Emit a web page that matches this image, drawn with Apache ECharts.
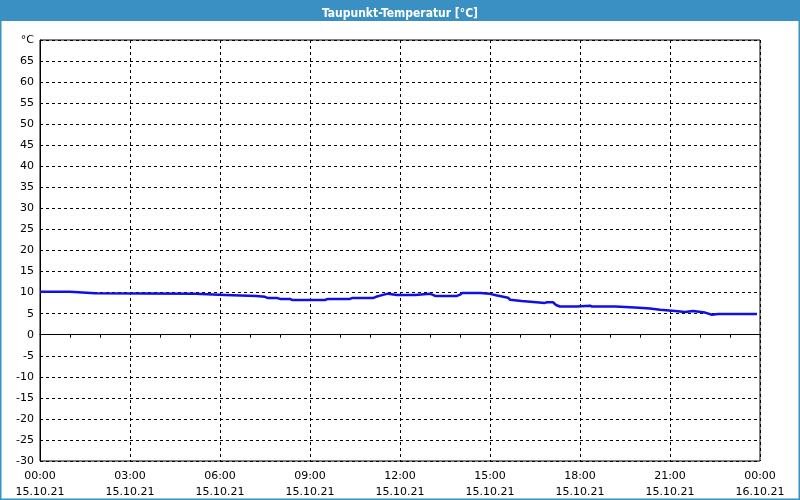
<!DOCTYPE html>
<html><head><meta charset="utf-8">
<script src="https://cdn.jsdelivr.net/npm/echarts@6/dist/echarts.min.js"></script>
<style>html,body{margin:0;padding:0;background:#fff}#c{width:800px;height:500px}</style>
</head><body><div id="c"></div>
<script>
const titleText = 'Taupunkt-Temperatur [°C]';
const xTickLabels = ['00:00\n15.10.21','03:00\n15.10.21','06:00\n15.10.21','09:00\n15.10.21','12:00\n15.10.21','15:00\n15.10.21','18:00\n15.10.21','21:00\n15.10.21','00:00\n16.10.21'];
const yUnitLabel = '°C';
// hours since 15.10.21 00:00
const hours = [0,1,1.05,1.83,1.88,5.17,5.22,6.17,6.22,7.2,7.25,7.5,7.6,7.9,8.0,8.33,8.4,9.5,9.6,10.33,10.4,11.1,11.2,11.4,11.6,11.9,12.5,12.55,13.0,13.1,13.17,13.9,14.0,14.07,14.67,14.72,15.0,15.2,15.6,15.67,16.05,16.1,16.83,16.9,17.1,17.2,17.33,17.9,17.95,18.33,18.4,19.17,19.22,19.83,19.88,20.33,20.38,20.67,20.72,21.17,21.22,21.5,21.55,21.77,21.82,22.17,22.2,22.4,22.6,23.9];
const dewpoint = [10.2,10.2,9.85,9.85,9.7,9.7,9.45,9.45,9.2,9.2,9.0,9.0,8.7,8.7,8.5,8.5,8.25,8.25,8.5,8.5,8.7,8.7,9.0,9.4,9.75,9.45,9.45,9.7,9.7,9.45,9.2,9.2,9.5,9.9,9.9,9.7,9.7,9.35,8.8,8.3,8.0,7.55,7.55,7.7,7.7,7.05,6.7,6.7,6.9,6.9,6.7,6.7,6.45,6.45,6.2,6.2,5.9,5.9,5.65,5.65,5.4,5.4,5.65,5.65,5.25,5.25,5.0,4.75,4.9,4.9];

const chart = echarts.init(document.getElementById('c'));
const font = 'DejaVu Sans';
chart.setOption({
  backgroundColor: '#ffffff',
  animation: false,
  title: {
    text: titleText, left: 'center', top: 3,
    textStyle: {color: '#ffffff', fontSize: 12, fontWeight: 'bold', fontFamily: 'DejaVu Sans Condensed, DejaVu Sans'}
  },
  graphic: [
    {type: 'rect', z: -10, shape: {x: 0, y: 0, width: 800, height: 21}, style: {fill: '#3a8fc3'}},
    {type: 'rect', z: -10, shape: {x: 0.5, y: 0.5, width: 799, height: 499}, style: {fill: 'none', stroke: '#3a8fc3', lineWidth: 2}}
  ],
  grid: {left: 40, right: 40, top: 40, bottom: 39, show: true, borderColor: '#000', borderWidth: 1, backgroundColor: '#fff'},
  xAxis: {
    type: 'value', min: 0, max: 24, interval: 3,
    axisLine: {show: true, lineStyle: {color: '#000', width: 1}},
    axisTick: {show: true, length: 3, lineStyle: {color: '#000'}},
    minorTick: {show: true, splitNumber: 3, length: 3, lineStyle: {color: '#000'}},
    splitLine: {show: true, lineStyle: {color: '#000', type: [3,3], width: 1}},
    axisLabel: {
      formatter: v => xTickLabels[Math.round(v / 3)] || '',
      color: '#000', fontSize: 11, fontFamily: font, lineHeight: 16, margin: 7
    }
  },
  yAxis: {
    type: 'value', min: -30, max: 70, interval: 5,
    axisLine: {show: true, lineStyle: {color: '#000', width: 1}},
    axisTick: {show: false},
    splitLine: {show: true, lineStyle: {color: '#000', type: [3,3], width: 1}},
    axisLabel: {
      formatter: v => v === 70 ? yUnitLabel : String(v),
      color: '#000', fontSize: 11, fontFamily: font, margin: 6
    }
  },
  series: [{
    type: 'line', showSymbol: false,
    data: hours.map((h, i) => [h, dewpoint[i]]),
    lineStyle: {color: '#1010e6', width: 2.5},
    itemStyle: {color: '#1010e6'}
  }]
});
</script></body></html>
